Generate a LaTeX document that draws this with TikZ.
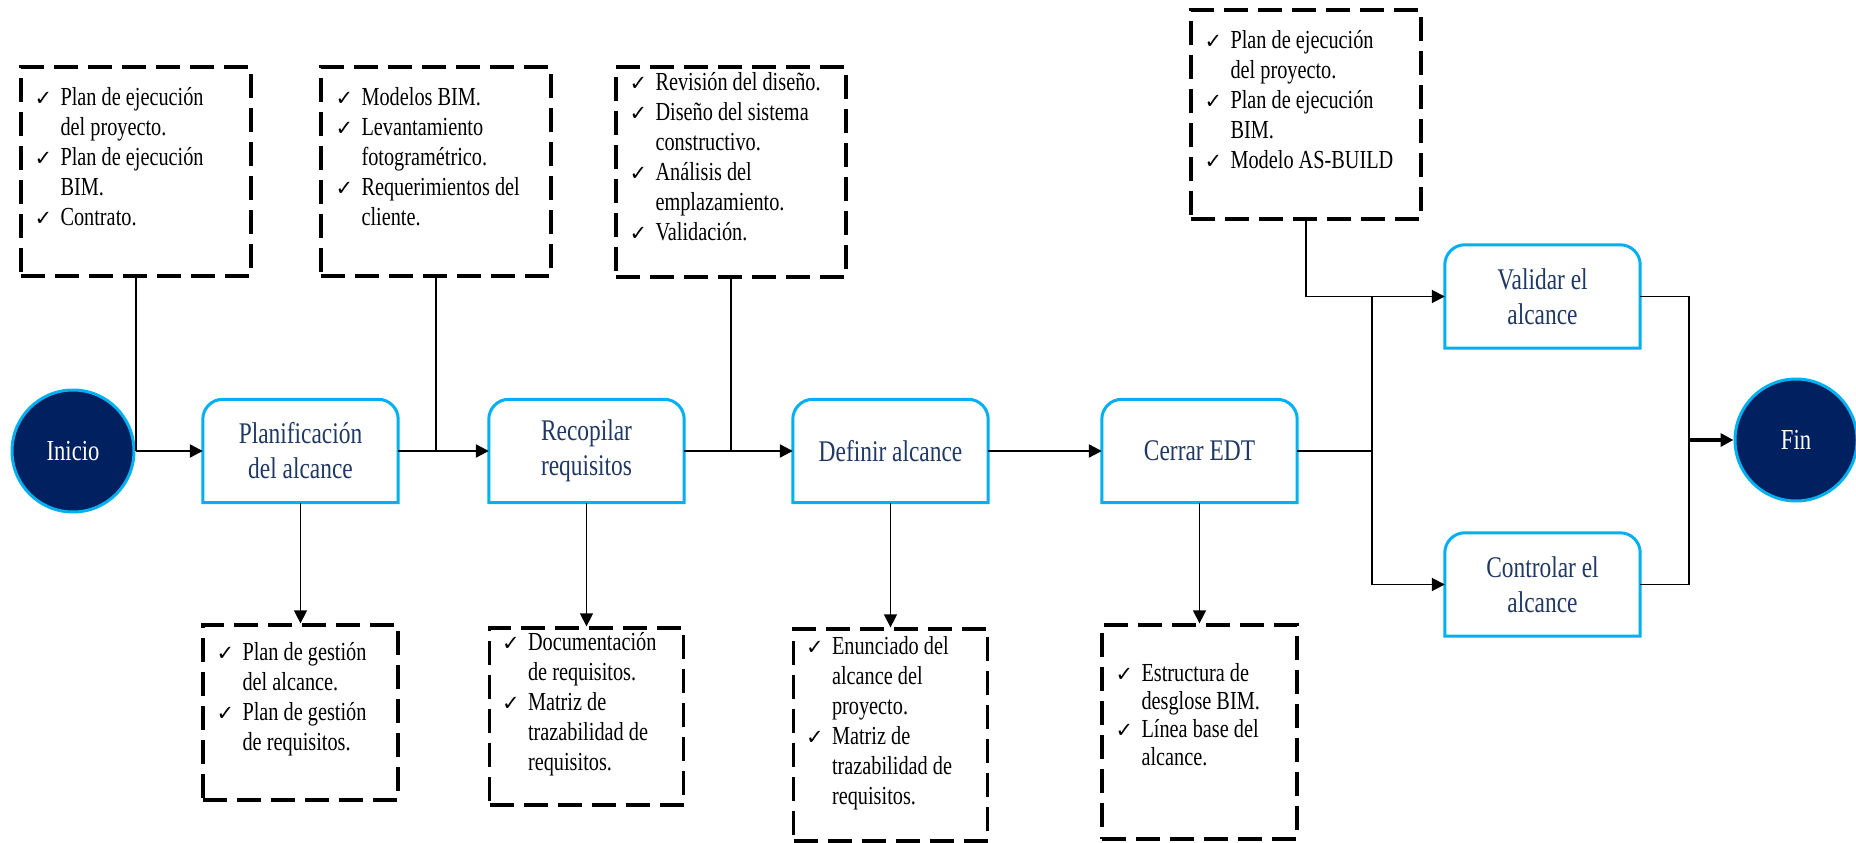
\documentclass[tikz,border=0pt]{standalone}
\usepackage{fontspec}
\setmainfont{Liberation Serif}[FakeStretch=0.78]
\newfontfamily\chkfont{DejaVu Sans}
\usetikzlibrary{arrows.meta}
\definecolor{mnavy}{HTML}{002060}
\definecolor{mcyan}{HTML}{00B0F0}
\definecolor{mtext}{HTML}{1F3864}
\tikzset{
  endpt/.style = {circle, fill = mnavy, draw = mcyan, line width = 3, minimum size = 122, inner sep = 0, text = white, font = \fontsize{29}{32}\selectfont},
  proc/.style = {rectangle, minimum width = 195, minimum height = 103, inner sep = 0, align = center, text = mtext, font = \fontsize{30}{35}\selectfont},
  procline/.style = {draw = mcyan, line width = 3},
  dbox/.style = {rectangle, draw, line width = 3.3, dash pattern = on 24pt off 10pt},
  lst/.style = {anchor = north west, inner sep = 0, font = \fontsize{26}{30}\selectfont},
  flow/.style = {line width = 2.2, -{Triangle[length = 13pt, width = 13pt]}},
  feed/.style = {line width = 1.5}
}
\newcommand{\chk}{{\chkfont\fontsize{21}{21}\selectfont ✓}}
\newcommand{\chklist}[1]{\begin{tabular}{@{}p{26pt}@{}l@{}}#1\end{tabular}}

\begin{document}
\begin{tikzpicture}[x = 1pt, y = 1pt]
  \useasboundingbox (0, 0) rectangle (1856, -843);

  \node [endpt] (inicio) at (73, -451) {Inicio};
  \node [proc] (plan) at (300.5, -451) {Planificación\\del alcance};
  \node [proc] (recop) at (586.5, -451) {Recopilar\\requisitos};
  \node [proc] (defin) at (890.5, -451) {Definir alcance};
  \node [proc] (cerrar) at (1199.5, -451) {Cerrar EDT};
  \node [proc] (valid) at (1542.5, -296.5) {Validar el\\alcance};
  \node [proc] (ctrl) at (1542.5, -584.5) {Controlar el\\alcance};
  \node [endpt] (fin) at (1796, -440) {Fin};

  \foreach \n in {plan, recop, defin, cerrar, valid, ctrl}
    \draw [procline] (\n.south west) -- ([yshift = -20pt] \n.north west)
      arc [start angle = 180, end angle = 90, radius = 20pt]
      -- ([xshift = -20pt] \n.north east)
      arc [start angle = 90, end angle = 0, radius = 20pt]
      -- (\n.south east) -- cycle;

  % entradas
  \node [dbox, minimum width = 230, minimum height = 209] (in1) at (136, -171.5) {};
  \node [dbox, minimum width = 230, minimum height = 209] (in2) at (436, -171.5) {};
  \node [dbox, minimum width = 230, minimum height = 210] (in3) at (731, -172) {};
  \node [dbox, minimum width = 230, minimum height = 209] (in4) at (1306, -114.5) {};
  \node [lst] (t1) at ([shift = {(15, -19)}] in1.north west) {\chklist{
    \chk & Plan de ejecución\\ & del proyecto.\\
    \chk & Plan de ejecución\\ & BIM.\\
    \chk & Contrato.}};
  \node [lst] (t2) at ([shift = {(16, -19)}] in2.north west) {\chklist{
    \chk & Modelos BIM.\\
    \chk & Levantamiento\\ & fotogramétrico.\\
    \chk & Requerimientos del\\ & cliente.}};
  \node [lst] (t3) at ([shift = {(15, -4)}] in3.north west) {\chklist{
    \chk & Revisión del diseño.\\
    \chk & Diseño del sistema\\ & constructivo.\\
    \chk & Análisis del\\ & emplazamiento.\\
    \chk & Validación.}};
  \node [lst] (t4) at ([shift = {(15, -19)}] in4.north west) {\chklist{
    \chk & Plan de ejecución\\ & del proyecto.\\
    \chk & Plan de ejecución\\ & BIM.\\
    \chk & Modelo AS-BUILD}};

  % salidas
  \node [dbox, minimum width = 195, minimum height = 175] (out1) at (300.5, -712.5) {};
  \node [dbox, minimum width = 194, minimum height = 177] (out2) at (586.5, -716.5) {};
  \node [dbox, minimum width = 194, minimum height = 212] (out3) at (890.5, -735) {};
  \node [dbox, minimum width = 195, minimum height = 214] (out4) at (1199.5, -732) {};
  \node [lst] (t5) at ([shift = {(15, -16)}] out1.north west) {\chklist{
    \chk & Plan de gestión\\ & del alcance.\\
    \chk & Plan de gestión\\ & de requisitos.}};
  \node [lst] (t6) at ([shift = {(14, -3)}] out2.north west) {\chklist{
    \chk & Documentación\\ & de requisitos.\\
    \chk & Matriz de\\ & trazabilidad de\\ & requisitos.}};
  \node [lst] (t7) at ([shift = {(14, -6)}] out3.north west) {\chklist{
    \chk & Enunciado del\\ & alcance del\\ & proyecto.\\
    \chk & Matriz de\\ & trazabilidad de\\ & requisitos.}};
  \node [lst, font = \fontsize{26}{28}\selectfont] (t8) at ([shift = {(15, -38)}] out4.north west) {\chklist{
    \chk & Estructura de\\ & desglose BIM.\\
    \chk & Línea base del\\ & alcance.}};

  \coordinate (split) at (1372, -451);
  \coordinate (join) at (1689, -440);

  \draw [flow] (inicio) -- (plan);
  \draw [feed] (in1) -- (in1 |- plan);
  \draw [flow] (plan) -- (recop);
  \draw [feed] (in2) -- (in2 |- recop);
  \draw [flow] (recop) -- (defin);
  \draw [feed] (in3) -- (in3 |- defin);
  \draw [flow] (defin) -- (cerrar);
  \draw [line width = 2.2] (cerrar) -- (split);
  \draw [flow, line width = 1.8] (split) |- (valid);
  \draw [flow, line width = 1.8] (split) |- (ctrl);
  \draw [feed] (in4) |- (split |- valid);
  \draw [line width = 1.8] (valid) -| (join);
  \draw [line width = 1.8] (ctrl) -| (join);
  \draw [flow, line width = 3.5] (join) -- (fin);

  \draw [flow, line width = 1.5] (plan) -- (out1);
  \draw [flow, line width = 1.5] (recop) -- (out2);
  \draw [flow, line width = 1.5] (defin) -- (out3);
  \draw [flow, line width = 1.5] (cerrar) -- (out4);
\end{tikzpicture}
\end{document}
